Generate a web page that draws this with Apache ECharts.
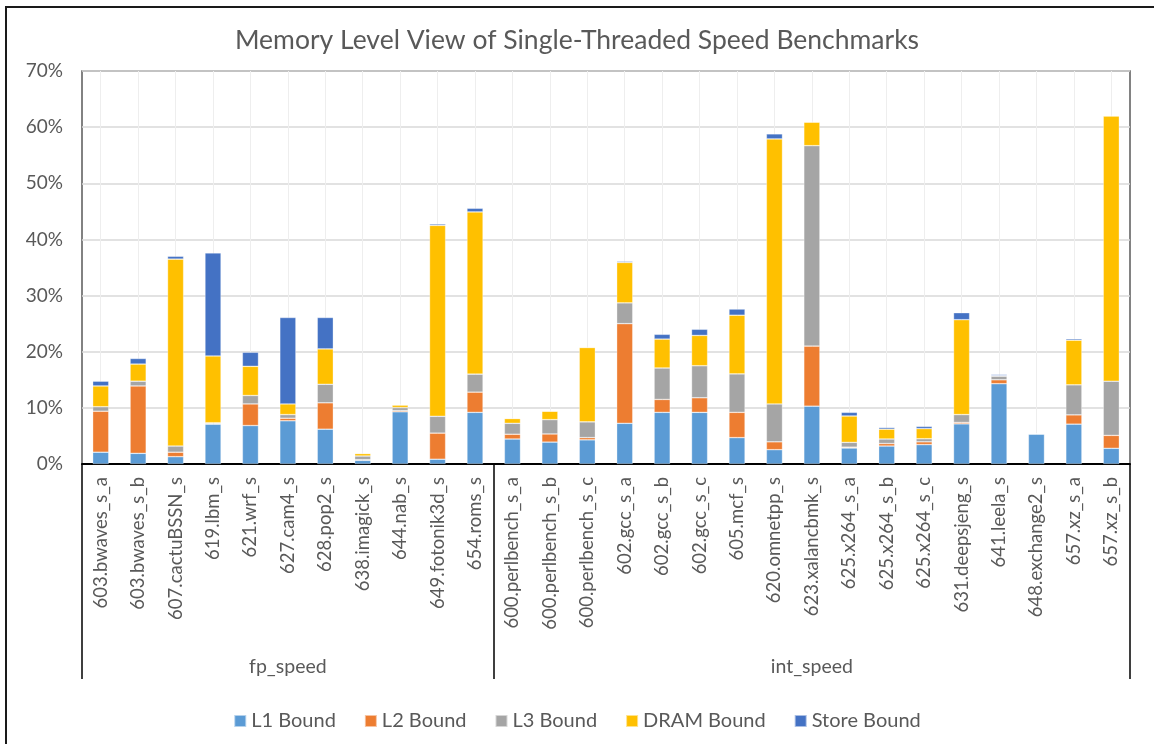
<!DOCTYPE html>
<html lang="en">
<head>
    <meta charset="UTF-8">
    <title>Memory Level View</title>
    <script src="https://cdn.jsdelivr.net/npm/echarts@6/dist/echarts.min.js"></script>
    <style>
        html, body { margin: 0; padding: 0; background: #fff; }
        #frame {
            position: absolute; left: 5px; top: 6px;
            width: 1200px; height: 800px;
            border: 2px solid #1a1a1a;
        }
        #container {
            position: absolute; left: 0; top: 0;
            width: 1154px; height: 744px;
        }
    </style>
</head>
<body>
<div id="frame"></div>
<div id="container"></div>
<script type="text/javascript">

    var benchmarks = [
        '603.bwaves_s_a', '603.bwaves_s_b', '607.cactuBSSN_s', '619.lbm_s', '621.wrf_s',
        '627.cam4_s', '628.pop2_s', '638.imagick_s', '644.nab_s', '649.fotonik3d_s', '654.roms_s',
        '600.perlbench_s_a', '600.perlbench_s_b', '600.perlbench_s_c', '602.gcc_s_a', '602.gcc_s_b',
        '602.gcc_s_c', '605.mcf_s', '620.omnetpp_s', '623.xalancbmk_s', '625.x264_s_a',
        '625.x264_s_b', '625.x264_s_c', '631.deepsjeng_s', '641.leela_s', '648.exchange2_s',
        '657.xz_s_a', '657.xz_s_b'
    ];
    var groups = ['fp_speed', 'int_speed'];
    var groupSizes = [11, 17];

    // percent of cycles
    var l1Bound = [2.1, 1.9, 1.3, 7.1, 6.85, 7.7, 6.2, 0.65, 9.3, 0.85, 9.2,
        4.45, 3.9, 4.3, 7.25, 9.2, 9.2, 4.7, 2.55, 10.3, 2.85, 3.2, 3.45, 7.15, 14.3, 5.35, 7.1, 2.8];
    var l2Bound = [7.3, 12.0, 0.8, 0.1, 3.85, 0.45, 4.7, 0.12, 0.2, 4.65, 3.6,
        0.85, 1.45, 0.4, 17.75, 2.3, 2.6, 4.5, 1.4, 10.7, 0.15, 0.45, 0.5, 0.25, 0.7, 0, 1.65, 2.3];
    var l3Bound = [0.8, 0.85, 1.1, 0.15, 1.5, 0.65, 3.3, 0.65, 0.55, 3.0, 3.2,
        1.95, 2.55, 2.8, 3.7, 5.6, 5.7, 6.85, 6.75, 35.7, 0.85, 0.8, 0.55, 1.4, 0.65, 0.05, 5.35, 9.65];
    var dramBound = [3.7, 3.05, 33.3, 11.9, 5.2, 1.9, 6.3, 0.45, 0.45, 34.0, 28.9,
        0.85, 1.5, 13.25, 7.2, 5.15, 5.4, 10.45, 47.2, 4.2, 4.7, 1.75, 1.8, 16.9, 0.1, 0, 7.95, 47.25];
    var storeBound = [0.85, 1.0, 0.5, 18.35, 2.5, 15.4, 5.6, 0.1, 0.1, 0.25, 0.65,
        0.05, 0.05, 0.05, 0.2, 0.85, 1.1, 1.1, 0.9, 0, 0.65, 0.3, 0.4, 1.25, 0.2, 0.05, 0.25, 0];

    var yTicks = [0, 10, 20, 30, 40, 50, 60, 70];

    var seriesNames = ['L1 Bound', 'L2 Bound', 'L3 Bound', 'DRAM Bound', 'Store Bound'];
    var seriesData = [l1Bound, l2Bound, l3Bound, dramBound, storeBound];
    var colors = ['#5B9BD5', '#ED7D31', '#A5A5A5', '#FFC000', '#4472C4'];

    var font = 'Lato';
    var textColor = '#595959';

    // group boundaries and centres on a 0..N value scale
    var bounds = [0];
    var centres = [];
    groupSizes.forEach(function (n, i) {
        centres.push(bounds[i] + n / 2);
        bounds.push(bounds[i] + n);
    });

    var myChart = echarts.init(document.getElementById('container'));

    var series = seriesNames.map(function (name, i) {
        return {
            name: name,
            type: 'bar',
            stack: 'mem',
            barWidth: '43%',
            xAxisIndex: 0,
            itemStyle: {
                color: colors[i],
                borderColor: 'rgba(255,255,255,0.55)',
                borderWidth: 0.6
            },
            data: seriesData[i]
        };
    });

    myChart.setOption({
        animation: false,
        textStyle: {fontFamily: font},
        title: {
            text: 'Memory Level View of Single-Threaded Speed Benchmarks',
            left: 'center',
            top: 22,
            textStyle: {fontFamily: font, fontSize: 26.5, fontWeight: 'normal', color: textColor}
        },
        legend: {
            data: seriesNames,
            bottom: 8,
            left: 'center',
            icon: 'rect',
            itemWidth: 12,
            itemHeight: 12,
            itemGap: 28,
            textStyle: {fontFamily: font, fontSize: 20, color: textColor}
        },
        grid: {
            left: 82,
            right: 24,
            top: 71,
            bottom: 280,
            outerBoundsMode: 'none',
            show: true,
            borderColor: '#595959',
            borderWidth: 1.5,
            backgroundColor: 'transparent'
        },
        xAxis: [
            {
                type: 'category',
                data: benchmarks,
                position: 'bottom',
                axisLine: {lineStyle: {color: '#000', width: 2}},
                axisTick: {show: false},
                splitLine: {show: true, alignWithLabel: true, lineStyle: {color: '#eeeeee', width: 1}},
                axisLabel: {
                    rotate: 90,
                    interval: 0,
                    margin: 13,
                    fontFamily: font,
                    fontSize: 18.5,
                    color: textColor
                }
            },
            {
                type: 'value',
                position: 'bottom',
                min: 0,
                max: bounds[bounds.length - 1],
                axisLine: {show: false},
                splitLine: {show: false},
                axisTick: {
                    show: true,
                    customValues: bounds,
                    length: 215,
                    lineStyle: {color: '#000', width: 1.5}
                },
                axisLabel: {
                    show: true,
                    customValues: centres,
                    margin: 193,
                    fontFamily: font,
                    fontSize: 19.5,
                    color: textColor,
                    formatter: function (v) {
                        var idx = centres.indexOf(v);
                        return idx >= 0 ? groups[idx] : '';
                    }
                }
            }
        ],
        yAxis: {
            type: 'value',
            min: yTicks[0],
            max: yTicks[yTicks.length - 1],
            interval: 10,
            axisLine: {show: false},
            axisTick: {show: false},
            splitLine: {lineStyle: {color: '#d9d9d9', width: 1.5}},
            axisLabel: {
                formatter: '{value}%',
                margin: 19,
                fontFamily: font,
                fontSize: 19,
                color: textColor
            }
        },
        series: series
    });
</script>
</body>
</html>
